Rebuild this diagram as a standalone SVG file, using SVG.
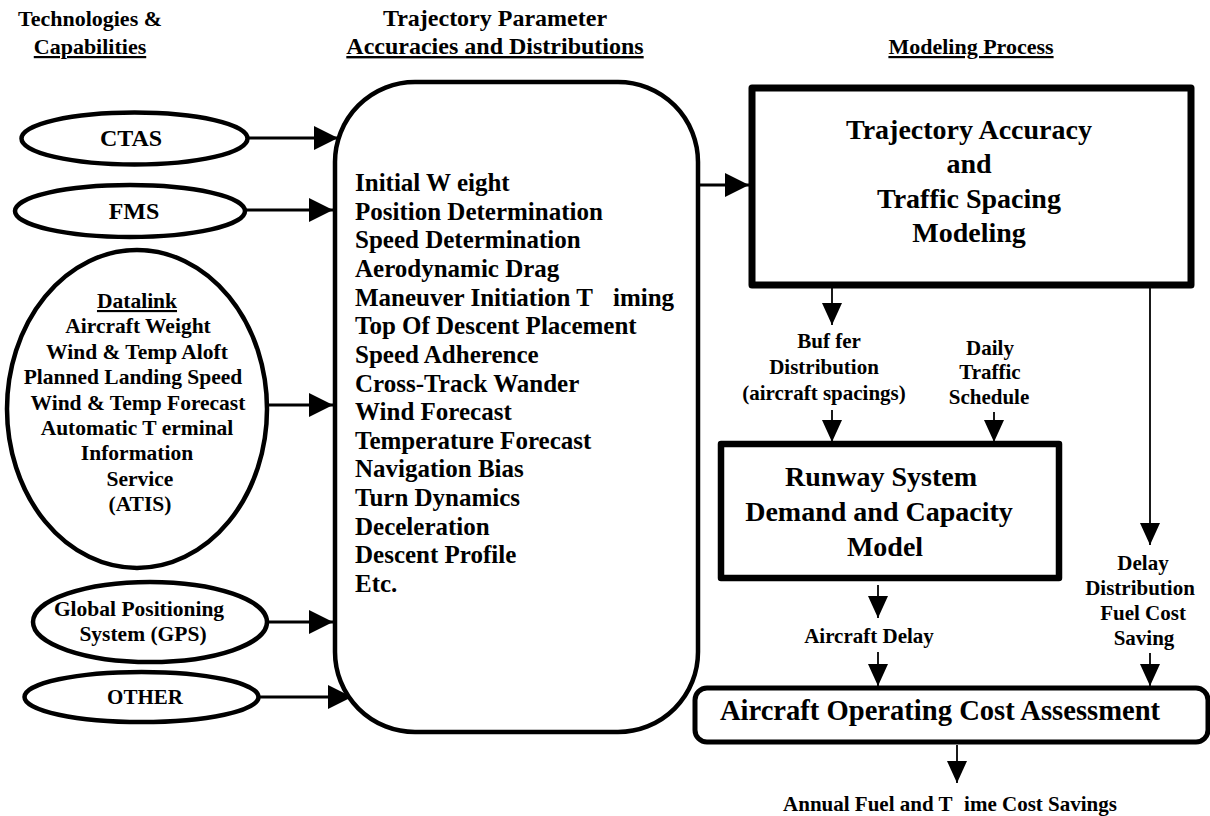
<svg xmlns="http://www.w3.org/2000/svg" width="1210" height="816" viewBox="0 0 1210 816">
<style>
text{font-family:"Liberation Serif","Times New Roman",serif;font-weight:bold;fill:#000}
.h{text-anchor:middle}
.u{text-decoration:underline}
.c{text-anchor:middle}
.shape{fill:#fff;stroke:#000}
.big{stroke-width:3;fill:none;stroke:#000}
.thin{stroke-width:1.8;fill:none;stroke:#000}
.lst{font-size:25px}
.dl{font-size:21.5px;text-anchor:middle}
.lbl{font-size:21px;text-anchor:middle}
.ttl{text-anchor:middle}
</style>
<defs>
<marker id="ab" viewBox="0 0 24 24" refX="24" refY="12" markerWidth="24" markerHeight="24" markerUnits="userSpaceOnUse" orient="auto"><path d="M0,0L24,12L0,24z" fill="#000"/></marker>
<marker id="as" viewBox="0 0 20 22" refX="10" refY="22" markerWidth="20" markerHeight="22" markerUnits="userSpaceOnUse" orient="0"><path d="M0,0L20,0L10,22z" fill="#000"/></marker>
</defs>
<rect width="1210" height="816" fill="#fff"/>
<g id="headers">
<text class="h" x="90" y="26" font-size="22">Technologies &amp;</text>
<text class="h u" x="90" y="54" font-size="22">Capabilities</text>
<text class="h" x="495" y="26" font-size="24">Trajectory Parameter</text>
<text class="h u" x="495" y="54" font-size="24">Accuracies and Distributions</text>
<text class="h u" x="971" y="54" font-size="22">Modeling Process</text>
</g>
<g id="connectors">
<line class="big" x1="248" y1="138" x2="338" y2="138" marker-end="url(#ab)"/>
<line class="big" x1="245" y1="210" x2="333" y2="210" marker-end="url(#ab)"/>
<line class="big" x1="267" y1="405" x2="333" y2="405" marker-end="url(#ab)"/>
<line class="big" x1="267" y1="622" x2="333" y2="622" marker-end="url(#ab)"/>
<line class="big" x1="259" y1="697" x2="352" y2="697" marker-end="url(#ab)"/>
<line class="big" x1="698" y1="185" x2="749" y2="185" marker-end="url(#ab)"/>
<line class="thin" x1="832" y1="288" x2="832" y2="325" marker-end="url(#as)"/>
<line class="thin" x1="832" y1="410" x2="832" y2="442" marker-end="url(#as)"/>
<line class="thin" x1="994" y1="412" x2="994" y2="442" marker-end="url(#as)"/>
<line class="thin" x1="878" y1="585" x2="878" y2="618" marker-end="url(#as)"/>
<line class="thin" x1="878" y1="652" x2="878" y2="686" marker-end="url(#as)"/>
<line class="thin" x1="1150" y1="288" x2="1150" y2="545" marker-end="url(#as)"/>
<line class="thin" x1="1150" y1="653" x2="1150" y2="686" marker-end="url(#as)"/>
<line class="thin" x1="957" y1="745" x2="957" y2="783" marker-end="url(#as)"/>
</g>
<g id="ctas">
<ellipse class="shape" cx="134.5" cy="138.5" rx="113" ry="26" stroke-width="4.5"/>
<text x="131" y="146" class="c" font-size="24">CTAS</text>
</g>
<g id="fms">
<ellipse class="shape" cx="130" cy="211" rx="115" ry="26" stroke-width="4.5"/>
<text x="134" y="219" class="c" font-size="24">FMS</text>
</g>
<g id="datalink">
<ellipse class="shape" cx="137" cy="409" rx="130" ry="159" stroke-width="4.5"/>
<text class="dl u" x="137" y="308">Datalink</text>
<text class="dl" x="138" y="333.4">Aircraft Weight</text>
<text class="dl" x="137" y="358.8">Wind &amp; Temp Aloft</text>
<text class="dl" x="133" y="384.2">Planned Landing Speed</text>
<text class="dl" x="138" y="409.6">Wind &amp; Temp Forecast</text>
<text class="dl" x="137" y="435">Automatic T erminal</text>
<text class="dl" x="137" y="460.4">Information</text>
<text class="dl" x="140" y="485.8">Service</text>
<text class="dl" x="140" y="511.2">(ATIS)</text>
</g>
<g id="gps">
<ellipse class="shape" cx="150" cy="622" rx="117" ry="40" stroke-width="4.5"/>
<text class="dl" x="139" y="616">Global Positioning</text>
<text class="dl" x="143" y="641">System (GPS)</text>
</g>
<g id="other">
<ellipse class="shape" cx="141.5" cy="697" rx="117" ry="25" stroke-width="4.5"/>
<text x="145" y="704" class="c" font-size="21">OTHER</text>
</g>
<g id="parameters">
<rect class="shape" x="335" y="82" width="363" height="650" rx="80" ry="80" stroke-width="4.5"/>
<text class="lst" x="355" y="191">Initial W eight</text>
<text class="lst" x="355" y="219.6">Position Determination</text>
<text class="lst" x="355" y="248.3">Speed Determination</text>
<text class="lst" x="355" y="276.9">Aerodynamic Drag</text>
<text class="lst" x="355" y="305.6">Maneuver Initiation T<tspan x="613">iming</tspan></text>
<text class="lst" x="355" y="334.2">Top Of Descent Placement</text>
<text class="lst" x="355" y="362.8">Speed Adherence</text>
<text class="lst" x="355" y="391.5">Cross-Track Wander</text>
<text class="lst" x="355" y="420.1">Wind Forecast</text>
<text class="lst" x="355" y="448.8">Temperature Forecast</text>
<text class="lst" x="355" y="477.4">Navigation Bias</text>
<text class="lst" x="355" y="506">Turn Dynamics</text>
<text class="lst" x="355" y="534.7">Deceleration</text>
<text class="lst" x="355" y="563.3">Descent Profile</text>
<text class="lst" x="355" y="592">Etc.</text>
</g>
<g id="trajectory">
<rect class="shape" x="752" y="88" width="439" height="197" stroke-width="7" stroke-linejoin="round"/>
<text class="ttl" x="969" y="139" font-size="28">Trajectory Accuracy</text>
<text class="ttl" x="969" y="173" font-size="28">and</text>
<text class="ttl" x="969" y="208" font-size="28">Traffic Spacing</text>
<text class="ttl" x="969" y="242" font-size="28">Modeling</text>
</g>
<g id="buffer">
<text class="lbl" x="829" y="348">Buf fer</text>
<text class="lbl" x="824" y="374">Distribution</text>
<text class="lbl" x="824" y="400">(aircraft spacings)</text>
</g>
<g id="daily">
<text class="lbl" x="990" y="355">Daily</text>
<text class="lbl" x="990" y="379">Traffic</text>
<text class="lbl" x="989" y="404">Schedule</text>
</g>
<g id="runway">
<rect class="shape" x="721" y="444" width="338" height="134" stroke-width="6.5" stroke-linejoin="round"/>
<text class="ttl" x="881" y="486" font-size="28">Runway System</text>
<text class="ttl" x="879" y="521" font-size="28">Demand and Capacity</text>
<text class="ttl" x="885" y="556" font-size="28">Model</text>
</g>
<g id="aircraft-delay">
<text class="lbl" x="869" y="643">Aircraft Delay</text>
</g>
<g id="delay-dist">
<text class="lbl" x="1143" y="570">Delay</text>
<text class="lbl" x="1140" y="595">Distribution</text>
<text class="lbl" x="1143" y="620">Fuel Cost</text>
<text class="lbl" x="1144" y="645">Saving</text>
</g>
<g id="cost">
<rect class="shape" x="695" y="688" width="513" height="54" rx="12" ry="12" stroke-width="5"/>
<text class="ttl" x="940" y="720" font-size="28.6">Aircraft Operating Cost Assessment</text>
</g>
<g id="savings">
<text class="c" x="950" y="811" font-size="21">Annual Fuel and T<tspan dx="12">ime Cost Savings</tspan></text>
</g>
</svg>
